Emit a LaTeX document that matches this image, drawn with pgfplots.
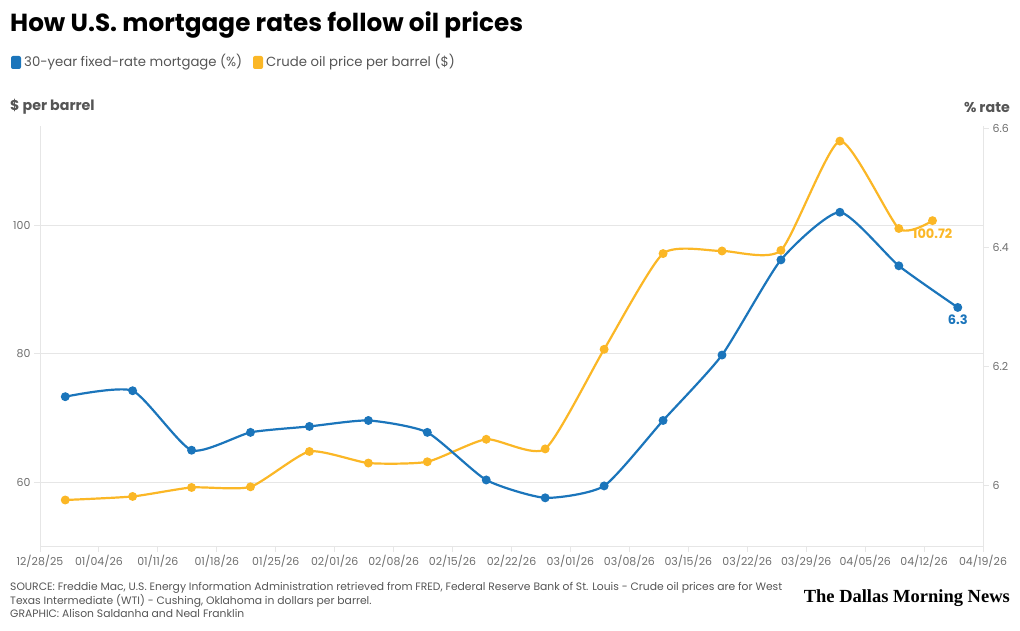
\documentclass[border=0pt]{standalone}
\usepackage{pgfplots}
\pgfplotsset{compat=1.18}
\usepackage{pgfplotstable}
\usepackage{fontspec}
\setmainfont{Poppins}
\newfontfamily\logofont{Liberation Serif}

\definecolor{mblue}{RGB}{27,117,187}
\definecolor{oilorange}{RGB}{251,183,38}
\definecolor{gridgray}{RGB}{230,230,230}
\definecolor{ticktext}{RGB}{110,110,110}
\definecolor{labeltext}{RGB}{85,85,85}

% days after 12/28/25
\pgfplotstableread{
day price
3   57.25
11  57.8
18  59.2
25  59.3
32  64.8
39  63.0
46  63.2
53  66.7
60  65.2
67  80.7
74  95.6
81  96.0
88  96.1
95  113.1
102 99.5
106 100.72
}\oiltable

\pgfplotstableread{
day rate
3   6.15
11  6.16
18  6.06
25  6.09
32  6.10
39  6.11
46  6.09
53  6.01
60  5.98
67  6.00
74  6.11
81  6.22
88  6.38
95  6.46
102 6.37
109 6.30
}\ratetable

\pgfplotsset{
  commonaxis/.style={
    at={(40bp,-546bp)}, anchor=south west,
    scale only axis, width=943bp, height=420bp,
    xmin=0, xmax=112,
    axis line style={gridgray, line width=1bp},
    tick style={gridgray, line width=1bp},
    major tick length=6bp,
    tick align=outside,
    /pgf/number format/assume math mode=true,
    tick label style={font=\fontsize{11}{13}\selectfont, text=ticktext},
    clip=false,
  },
}

\begin{document}
\begin{tikzpicture}[x=1bp,y=1bp]
\path (0,0) rectangle (1020,-631);

\node[anchor=west, inner sep=0, font=\fontsize{24.8}{28}\selectfont\bfseries] at (10,-25) {How U.S. mortgage rates follow oil prices};

\fill[mblue, rounded corners=2bp] (11,-56) rectangle (21,-69);
\node[anchor=west, inner sep=0, text=labeltext, font=\fontsize{13.3}{16}\selectfont] at (24,-62) {30-year fixed-rate mortgage (\%)};
\fill[oilorange, rounded corners=2bp] (253,-56) rectangle (263,-69);
\node[anchor=west, inner sep=0, text=labeltext, font=\fontsize{13.3}{16}\selectfont] at (266,-62) {Crude oil price per barrel (\$)};

\node[anchor=west, inner sep=0, text=labeltext, font=\fontsize{14.3}{16}\selectfont\bfseries] at (10,-107) {\$ per barrel};
\node[anchor=east, inner sep=0, text=labeltext, font=\fontsize{14.3}{16}\selectfont\bfseries] at (1010,-107) {\% rate};

\begin{axis}[
  commonaxis,
  ymin=50.09, ymax=115.45,
  axis x line*=bottom, axis y line*=left,
  ytick={60,80,100},
  ymajorgrids, grid style={gridgray, line width=1bp},
  xtick={0,7,...,112},
  xticklabels={12/28/25,01/04/26,01/11/26,01/18/26,01/25/26,02/01/26,02/08/26,02/15/26,02/22/26,03/01/26,03/08/26,03/15/26,03/22/26,03/29/26,04/05/26,04/12/26,04/19/26},
]
\addplot[oilorange, line width=2.2bp, smooth, tension=0.35, mark=*, mark size=3.3bp,
  mark options={fill=oilorange, draw=oilorange}] table[x=day, y=price] {\oiltable};
\node[anchor=north, text=oilorange, font=\fontsize{13}{15}\selectfont\bfseries, inner sep=0]
  at (axis cs:106,100.72) [yshift=-7.5bp] {100.72};
\end{axis}

\begin{axis}[
  commonaxis,
  ymin=5.899, ymax=6.605,
  axis x line=none, axis y line*=right,
  ytick={6,6.2,6.4,6.6},
  yticklabel style={/pgf/number format/.cd, fixed},
]
\addplot[mblue, line width=2.2bp, smooth, tension=0.35, mark=*, mark size=3.3bp,
  mark options={fill=mblue, draw=mblue}] table[x=day, y=rate] {\ratetable};
\node[anchor=north, text=mblue, font=\fontsize{13}{15}\selectfont\bfseries, inner sep=0]
  at (axis cs:109,6.30) [yshift=-7bp] {6.3};
\end{axis}

\node[anchor=north west, inner sep=0, align=left, text=labeltext, font=\fontsize{10.8}{13}\selectfont] at (10,-582)
  {SOURCE: Freddie Mac, U.S. Energy Information Administration retrieved from FRED, Federal Reserve Bank of St. Louis - Crude oil prices are for West\\
   Texas Intermediate (WTI) - Cushing, Oklahoma in dollars per barrel.\\
   GRAPHIC: Alison Saldanha and Neal Franklin};

\node[anchor=east, inner sep=0] at (1010,-598) {\resizebox{206bp}{!}{\logofont\bfseries The Dallas Morning News}};
\end{tikzpicture}
\end{document}
